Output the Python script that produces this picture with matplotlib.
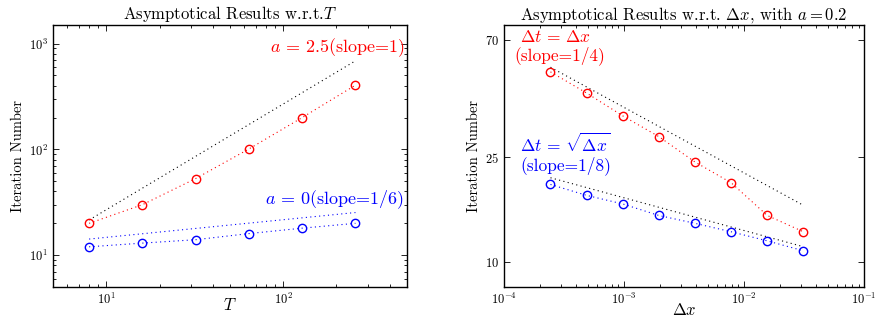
import numpy as np
import matplotlib
matplotlib.use('Agg')
import matplotlib.pyplot as plt
from matplotlib.ticker import FixedLocator, FuncFormatter, NullLocator, LogLocator

plt.rcParams['font.family'] = ['cmr10', 'DejaVu Serif']
plt.rcParams['mathtext.fontset'] = 'cm'
plt.rcParams['axes.unicode_minus'] = False

# left panel: iterations vs T
T = [8, 16, 32, 64, 128, 256]
iter_a25 = [20, 30, 53, 101, 200, 405]
iter_a0 = [12, 13, 14, 16, 18, 20]
ref_a25 = [21.5, 688]      # slope 1 guide, at T[0] and T[-1]
ref_a0 = [14.2, 25.3]      # slope 1/6 guide

# right panel: iterations vs dx, a = 0.2
dx = [1/4096, 1/2048, 1/1024, 1/512, 1/256, 1/128, 1/64, 1/32]
iter_dt_dx = [53, 44, 36, 30, 24, 20, 15, 13]
iter_dt_sqrt = [19.7, 17.9, 16.6, 15, 14, 13, 12, 11]
ref_dt_dx = [55.2, 16.4]   # slope 1/4 guide
ref_dt_sqrt = [20.9, 11.4] # slope 1/8 guide

DOT = (0, (1, 3))


def sans_log(v, pos):
    return r'$\mathsf{10^{%d}}$' % int(round(np.log10(v)))


def sans_plain(v, pos):
    return r'$\mathsf{%d}$' % int(round(v))


def style(ax):
    ax.tick_params(which='both', direction='in', top=True, right=True,
                   labelsize=9, width=0.6)
    ax.tick_params(which='major', length=4)
    ax.tick_params(which='minor', length=2)
    for s in ax.spines.values():
        s.set_linewidth(1.0)


fig = plt.figure(figsize=(8.76, 3.24), dpi=100)
ax1 = fig.add_axes([0.0605, 0.1142, 0.404, 0.8086])
ax2 = fig.add_axes([0.5753, 0.1142, 0.411, 0.8086])

# left
ax1.plot([T[0], T[-1]], ref_a25, ls=DOT, color='k', lw=0.8)
ax1.plot(T, iter_a25, 'o', ls=DOT, color='r', mfc='none', ms=6, mew=1.0, lw=0.8)
ax1.plot([T[0], T[-1]], ref_a0, ls=DOT, color='b', lw=0.8)
ax1.plot(T, iter_a0, 'o', ls=DOT, color='b', mfc='none', ms=6, mew=1.0, lw=0.8)
ax1.set_xscale('log')
ax1.set_yscale('log')
ax1.set_xlim(5, 500)
ax1.set_ylim(5, 1500)
ax1.xaxis.set_major_locator(FixedLocator([10, 100]))
ax1.yaxis.set_major_locator(FixedLocator([10, 100, 1000]))
ax1.xaxis.set_major_formatter(FuncFormatter(sans_log))
ax1.yaxis.set_major_formatter(FuncFormatter(sans_log))
ax1.xaxis.set_minor_locator(LogLocator(subs=np.arange(2, 10)))
ax1.yaxis.set_minor_locator(LogLocator(subs=np.arange(2, 10)))
style(ax1)
ax1.set_title(r'Asymptotical Results w.r.t.$T$', fontsize=12, pad=4)
ax1.set_ylabel('Iteration Number', fontsize=10.5, labelpad=3)
ax1.set_xlabel(r'$T$', fontsize=12, labelpad=-7)
ax1.text(0.995, 0.912, r'$a\,=\,2.5$(slope=1)', color='r', fontsize=13,
         ha='right', va='center', transform=ax1.transAxes)
ax1.text(0.99, 0.335, r'$a\,=\,0$(slope=1/6)', color='b', fontsize=13,
         ha='right', va='center', transform=ax1.transAxes)

# right
ax2.plot([dx[0], dx[-1]], ref_dt_dx, ls=DOT, color='k', lw=0.8)
ax2.plot(dx, iter_dt_dx, 'o', ls=DOT, color='r', mfc='none', ms=6, mew=1.0, lw=0.8)
ax2.plot([dx[0], dx[-1]], ref_dt_sqrt, ls=DOT, color='k', lw=0.8)
ax2.plot(dx, iter_dt_sqrt, 'o', ls=DOT, color='b', mfc='none', ms=6, mew=1.0, lw=0.8)
ax2.set_xscale('log')
ax2.set_yscale('log')
ax2.set_xlim(1e-4, 1e-1)
ax2.set_ylim(8, 80)
ax2.xaxis.set_major_locator(FixedLocator([1e-4, 1e-3, 1e-2, 1e-1]))
ax2.xaxis.set_major_formatter(FuncFormatter(sans_log))
ax2.xaxis.set_minor_locator(LogLocator(subs=np.arange(2, 10)))
ax2.yaxis.set_major_locator(FixedLocator([10, 25, 70]))
ax2.yaxis.set_major_formatter(FuncFormatter(sans_plain))
ax2.yaxis.set_minor_locator(NullLocator())
style(ax2)
ax2.set_title(r'Asymptotical Results w.r.t. $\Delta x$, with $a = 0.2$',
              fontsize=12, pad=4)
ax2.set_ylabel('Iteration Number', fontsize=10.5, labelpad=3)
ax2.set_xlabel(r'$\Delta x$', fontsize=12, labelpad=-4)
ax2.text(0.045, 0.955, r'$\Delta t\,=\,\Delta x$', color='r', fontsize=12.5,
         ha='left', va='center', transform=ax2.transAxes)
ax2.text(0.03, 0.885, '(slope=1/4)', color='r', fontsize=12.5,
         ha='left', va='center', transform=ax2.transAxes)
ax2.text(0.045, 0.515, r'$\Delta t\,=\,\sqrt{\Delta x}$', color='b',
         fontsize=12.5, ha='left', va='baseline', transform=ax2.transAxes)
ax2.text(0.045, 0.462, '(slope=1/8)', color='b', fontsize=12.5,
         ha='left', va='center', transform=ax2.transAxes)

fig.savefig('out.png', dpi=100)
